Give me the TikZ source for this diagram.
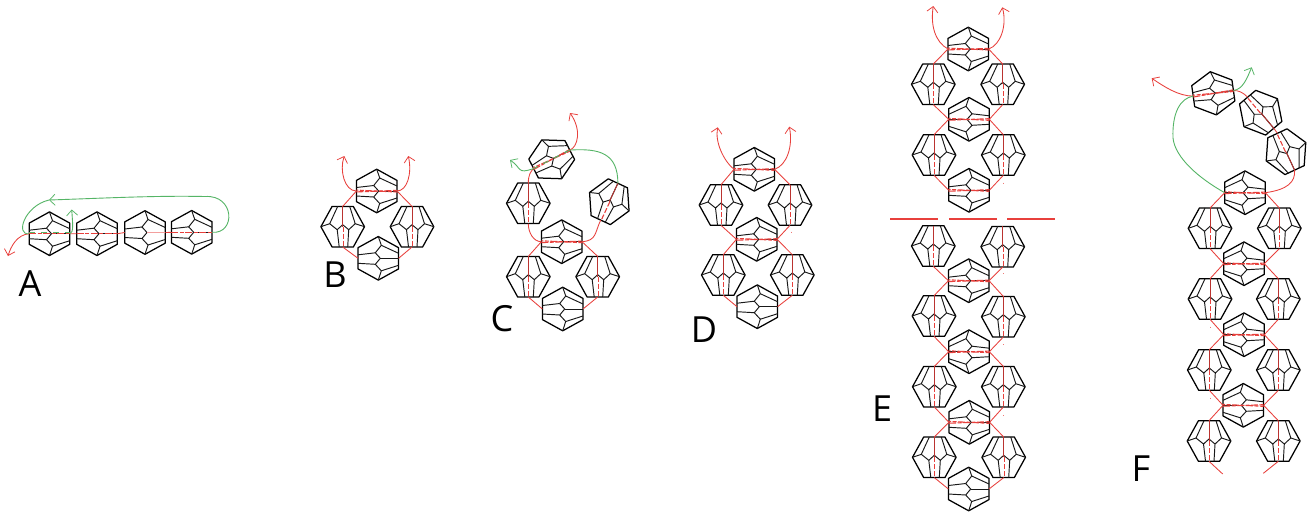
\documentclass[tikz,border=0pt]{standalone}
\usepackage{fontspec}
\setmainfont{Open Sans}
\usetikzlibrary{arrows.meta}
\definecolor{rd}{HTML}{E8403C}
\definecolor{gr}{HTML}{55B566}
\tikzset{
  beadline/.style={draw=black,line width=1.25pt,line join=round},
  innerline/.style={draw=black!90,line width=0.95pt},
  redline/.style={draw=rd,line width=0.85pt},
  redbead/.style={draw=rd,line width=1.1pt,dash pattern=on 7pt off 1.5pt on 4pt off 1.5pt},
  redcore/.style={draw=rd!80!black,line width=0.9pt},
  grline/.style={draw=gr,line width=0.9pt},
  grbead/.style={draw=gr,line width=1pt,dash pattern=on 6pt off 6pt},
  arr/.style={-{Straight Barb[length=5.5pt,width=11pt,line width=0.75pt]}},
  bar/.style={draw=rd,line width=1.9pt},
  speck/.style={draw=rd!70,line width=0.6pt},
  lab/.style={font=\fontsize{36}{40}\selectfont,text=black,inner sep=0pt},
  plainbead/.pic={\beadbody\beadanchors},
  thbead/.pic={\beadbody\beadanchors\threadH},
  thbeadm/.pic={\begin{scope}[xscale=-1]\beadbody\end{scope}\beadanchors\threadH},
  vtbead/.pic={\beadbody\beadanchors\threadV},
}
\newcommand{\beadbody}{%
  \draw[beadline] (0,-21.8)--(20.3,-10.6)--(20.3,10.6)--(0,21.8)--(-20.3,10.6)--(-20.3,-10.6)--cycle;
  \draw[innerline] (0,-21.8)--(3,-13)--(-3,-5.5)--(2,0)--(-3,6)--(3,12.5)--(0,21.8);
  \draw[innerline] (3,-13)--(20.3,-5);
  \draw[innerline] (3,12.5)--(20.3,7);
  \draw[innerline] (2,0)--(20.3,0);
  \draw[innerline] (-3,-5.5)--(-20.3,-3.5);
  \draw[innerline] (-3,6)--(-20.3,5);
}
\newcommand{\beadanchors}{%
  \coordinate (-w) at (-20.3,0);
  \coordinate (-e) at (20.3,0);
  \coordinate (-c) at (2,0);
}
\newcommand{\threadH}{%
  \draw[redbead] (-20.3,0.9)--(20.3,-0.6);
  \draw[redbead,dash phase=5pt] (-20.3,-0.9)--(20.3,1);
}
\newcommand{\threadV}{%
  \draw[redcore] (20.3,0)--(0,0);
  \draw[redbead,dash pattern=on 5pt off 2pt] (0,0.5)--(-20.3,0.5);
}
\newcommand{\HB}[3]{\pic (#1) at (#2,#3) {thbead};}
\newcommand{\MB}[3]{\pic (#1) at (#2,#3) {thbeadm};}
\newcommand{\VB}[3]{\pic[rotate=90] (#1) at (#2,#3) {vtbead};}
\newcommand{\PB}[3]{\pic (#1) at (#2,#3) {plainbead};}
\begin{document}
\begin{tikzpicture}[x=1pt,y=-1pt]
\useasboundingbox (0,0) rectangle (1316,515);
\fill[white] (0,0) rectangle (1316,515);

% ---------- A
\PB{a1}{49.5}{233.7}\PB{a2}{97}{233.7}\PB{a3}{145}{232.5}\PB{a4}{191.7}{232.3}
\coordinate (atip) at (8,256);
\coordinate (amid) at (49,200);
\coordinate (aup) at (71.7,209.5);
\coordinate (atop) at (205,196.5);
\draw[redline] (a1-e)--(a2-w) (a2-e)--(a3-w) (a3-e)--(a4-w);
\draw[draw=rd!50,line width=1.2pt] (a3-e)--(a3-c);
\draw[redbead] (a1-w)--(a1-e);
\draw[redbead] (a2-w)--(a2-e);
\draw[redbead] (a4-w)--(a4-e);
\draw[grbead] ([yshift=1pt]a1-w)--([yshift=1pt]a1-e);
\draw[redline,arr] (a1-w) .. controls +(-12,1) and +(3,-10) .. (atip);
\draw[grline] (a4-e) .. controls +(24,2) and +(30,-2) .. (atop);
\draw[grline,arr] (atop) .. controls +(-50,-1) and +(60,-2) .. (amid);
\draw[grline] (amid) .. controls +(-25,6) and +(-14,2) .. (a1-w);
\draw[grline,arr] (a1-e) .. controls +(4,-1) and +(1,14) .. (aup);
\node[lab] (la) at (30,284) {A};

% ---------- B
\HB{b1}{376.7}{191}\VB{b2}{342.7}{226.7}\VB{b3}{412}{226.7}\PB{b4}{378.3}{258.3}
\coordinate (btl) at (344.3,156);
\coordinate (btr) at (408.3,156);
\draw[redline] (b1-w)--(b2-e) (b1-e)--(b3-e) (b2-w)--(b4-w) (b3-w)--(b4-e);
\draw[redline,arr] (b1-w) .. controls +(-12,0) and +(-5,14) .. (btl);
\draw[redline,arr] (b1-e) .. controls +(10,0) and +(4,18) .. (btr);
\node[lab] (lb) at (335,275) {B};

% ---------- C
\pic[rotate=27] (c1) at (551.7,159.3) {thbead};
\pic[rotate=65] (c2) at (609.3,201.7) {vtbead};
\VB{c3}{528.3}{203.3}\HB{c4}{561.7}{241.7}\VB{c5}{528.3}{276.7}\VB{c6}{597.7}{276.7}\PB{c7}{562.7}{309}
\coordinate (ctr) at (570,113);
\coordinate (ctg) at (510,160);
\draw[redline] (c3-e) .. controls +(0,-8) and +(-3,3) .. (c1-w);
\draw[redline,arr] (c1-e) .. controls +(8,-3) and +(12,17) .. (ctr);
\draw[grline] (c2-e) .. controls +(0,-30) and +(30,-2) .. (c1-e);
\draw[grbead] (c1-e)--(c1-w);
\draw[grline,arr] (c1-w) .. controls +(-17,6) and +(12,8) .. (ctg);
\draw[redline] (c3-w) .. controls +(0,9) and +(-8,0) .. (c4-w);
\draw[redline] (c4-e) .. controls +(15,-1) and +(-6,12) .. (c2-w);
\draw[redline] (c4-w)--(c5-e) (c4-e)--(c6-e) (c5-w)--(c7-w) (c6-w)--(c7-e);
\node[lab] (lc) at (502,319) {C};

% ---------- D
\HB{d1}{754.3}{169.3}\VB{d2}{721}{205}\VB{d3}{790}{205}\HB{d4}{756.7}{239.3}\VB{d5}{723.3}{275}\VB{d6}{792.3}{275}\PB{d7}{757.3}{306.7}
\coordinate (dtl) at (717.7,127.3);
\coordinate (dtr) at (789.3,126.7);
\draw[redline,arr] (d1-w) .. controls +(-10,-8) and +(-3,15) .. (dtl);
\draw[redline,arr] (d1-e) .. controls +(12,-4) and +(4,20) .. (dtr);
\draw[redline] (d1-w)--(d2-e) (d1-e)--(d3-e) (d2-w)--(d4-w) (d3-w)--(d4-e) (d4-w)--(d5-e) (d4-e)--(d6-e) (d5-w)--(d7-w) (d6-w)--(d7-e);
\node[lab] (ld) at (704,330) {D};
\draw[speck] (791,231.7)--(791,232.4);

% ---------- E upper
\HB{e1}{968.3}{49}\VB{e2}{933.3}{84.3}\VB{e3}{1002.7}{84.3}\MB{e4}{969}{119.3}\VB{e5}{934}{155}\VB{e6}{1003.3}{155}\HB{e7}{969}{190.3}
\coordinate (etl) at (933.3,6);
\coordinate (etr) at (1002.3,7.3);
\draw[redline,arr] (e1-w) .. controls +(-13,-7) and +(-3,19) .. (etl);
\draw[redline,arr] (e1-e) .. controls +(12,-4) and +(5,18) .. (etr);
\draw[redline] (e1-w)--(e2-e) (e1-e)--(e3-e) (e2-w)--(e4-w) (e3-w)--(e4-e) (e4-w)--(e5-e) (e4-e)--(e6-e) (e5-w)--(e7-w) (e6-w)--(e7-e);
\draw[speck] (1003.3,182.5)--(1003.3,183.2);
\draw[bar] (890,218.7)--(937.7,218.7);
\draw[bar] (949,218.7)--(997.3,218.7);
\draw[bar] (1007,218.7)--(1055,218.7);

% ---------- E lower
\VB{g1}{933.3}{246}\VB{g2}{1002.7}{246.7}\HB{g3}{968.7}{280.7}\VB{g4}{934}{316}\VB{g5}{1003.3}{316.7}\MB{g6}{969}{351.7}\VB{g7}{934.3}{386.7}\VB{g8}{1003.3}{386.7}\HB{g9}{969.3}{422.3}\VB{g10}{934.3}{457.3}\VB{g11}{1003.7}{457.3}\PB{g12}{968.7}{489}
\draw[redline] (g1-w)--(g3-w) (g2-w)--(g3-e) (g3-w)--(g4-e) (g3-e)--(g5-e) (g4-w)--(g6-w) (g5-w)--(g6-e) (g6-w)--(g7-e) (g6-e)--(g8-e) (g7-w)--(g9-w) (g8-w)--(g9-e) (g9-w)--(g10-e) (g9-e)--(g11-e) (g10-w)--(g12-w) (g11-w)--(g12-e);
\draw[speck] (1003,273)--(1003,273.7) (1003,344)--(1003,344.7) (1003,415)--(1003,415.7);
\node[lab] (le) at (882,409) {E};

% ---------- F
\pic[rotate=8] (f1) at (1213.3,93.3) {thbead};
\pic[rotate=-50] (f2) at (1260.7,112.7) {vtbead};
\pic[rotate=-65] (f3) at (1286,151.7) {vtbead};
\MB{f4}{1245}{192.7}\VB{f5}{1210}{228.3}\VB{f6}{1279.3}{228.3}\MB{f7}{1244}{263.7}\VB{f8}{1210}{299}\VB{f9}{1278.3}{299}\MB{f10}{1244}{334.7}\VB{f11}{1209.3}{370}\VB{f12}{1278.3}{370}\MB{f13}{1243.3}{405.3}\VB{f14}{1209}{441}\VB{f15}{1278.3}{441}
\coordinate (ftr) at (1151.7,78.3);
\coordinate (ftg) at (1251.7,67.3);
\coordinate (fgm) at (1173,138);
\coordinate (fbl) at (1222.7,474);
\coordinate (fbr) at (1263.3,473.3);
\draw[redline] (f4-e) .. controls +(22,-3) and +(1,12) .. (f3-e);
\draw[redline] (f3-w)--(f2-e);
\draw[redline] (f2-w) .. controls +(-5,-5) and +(5,0) .. (f1-e);
\draw[redline,arr] (f1-w) .. controls +(-15,0) and +(12,8) .. (ftr);
\draw[grline] (f4-w) .. controls +(-25,-14) and +(2,20) .. (fgm);
\draw[grline] (fgm) .. controls +(-1,-25) and +(-13,2) .. (f1-w);
\draw[grline,arr] (f1-e) .. controls +(10,-1) and +(-4,9) .. (ftg);
\draw[redline] (f4-w)--(f5-e) (f4-e)--(f6-e) (f5-w)--(f7-w) (f6-w)--(f7-e) (f7-w)--(f8-e) (f7-e)--(f9-e) (f8-w)--(f10-w) (f9-w)--(f10-e) (f10-w)--(f11-e) (f10-e)--(f12-e) (f11-w)--(f13-w) (f12-w)--(f13-e) (f13-w)--(f14-e) (f13-e)--(f15-e) (f14-w)--(fbl) (f15-w)--(fbr);
\draw[speck] (1210,326.5)--(1210,327.2) (1210,397.5)--(1210,398.2);
\node[lab] (lf) at (1141,469) {F};
\end{tikzpicture}
\end{document}
